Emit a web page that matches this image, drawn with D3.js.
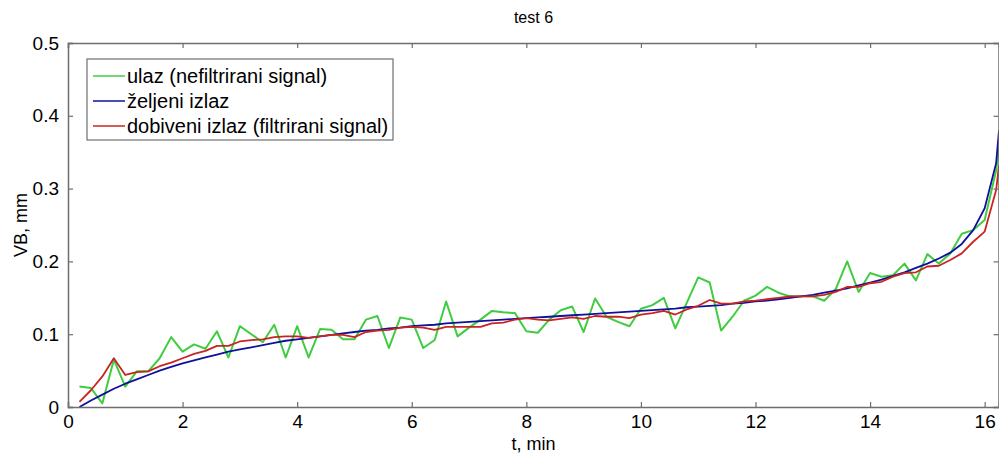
<!DOCTYPE html>
<html><head><meta charset="utf-8">
<script src="https://cdn.jsdelivr.net/npm/d3@7"></script>
<style>body{margin:0;background:#fff;} text{font-family:"Liberation Sans",Arial,sans-serif;}</style>
</head><body><svg id="c" width="999" height="459"></svg>
<script>
const times = [0.2,0.4,0.6,0.8,1.0,1.2,1.4,1.6,1.8,2.0,2.2,2.4,2.6,2.8,3.0,3.2,3.4,3.6,3.8,4.0,
4.2,4.4,4.6,4.8,5.0,5.2,5.4,5.6,5.8,6.0,6.2,6.4,6.6,6.8,7.0,7.2,7.4,7.6,7.8,8.0,
8.2,8.4,8.6,8.8,9.0,9.2,9.4,9.6,9.8,10.0,10.2,10.4,10.6,10.8,11.0,11.2,11.4,11.6,11.8,12.0,
12.2,12.4,12.6,12.8,13.0,13.2,13.4,13.6,13.8,14.0,14.2,14.4,14.6,14.8,15.0,15.2,15.4,15.6,15.8,16.0,
16.2,16.25];
const ulaz = [0.028,0.026,0.005,0.065,0.028,0.049,0.049,0.067,0.096,0.076,0.086,0.080,0.104,0.068,0.111,0.100,0.089,0.113,0.068,0.111,
0.068,0.107,0.106,0.093,0.093,0.120,0.125,0.081,0.123,0.120,0.081,0.092,0.145,0.097,0.109,0.120,0.132,0.130,0.129,0.104,
0.102,0.120,0.133,0.138,0.103,0.149,0.124,0.117,0.111,0.135,0.140,0.150,0.108,0.143,0.178,0.171,0.105,0.124,0.146,0.153,
0.165,0.157,0.152,0.152,0.152,0.146,0.162,0.200,0.158,0.184,0.179,0.181,0.197,0.174,0.210,0.197,0.211,0.238,0.243,0.257,
0.325,0.355];
const zeljeni = [0.000,0.009,0.017,0.025,0.032,0.038,0.044,0.050,0.055,0.060,0.064,0.068,0.072,0.076,0.079,0.082,0.085,0.088,0.091,0.093,
0.095,0.097,0.099,0.101,0.103,0.105,0.106,0.108,0.109,0.111,0.112,0.113,0.115,0.116,0.117,0.118,0.119,0.120,0.121,0.122,
0.123,0.124,0.125,0.126,0.127,0.128,0.129,0.130,0.131,0.132,0.133,0.134,0.135,0.137,0.138,0.139,0.140,0.142,0.143,0.145,
0.146,0.148,0.150,0.152,0.154,0.157,0.160,0.163,0.167,0.171,0.175,0.180,0.185,0.191,0.197,0.204,0.212,0.224,0.243,0.273,
0.335,0.380];
const dobiveni = [0.007,0.023,0.042,0.067,0.044,0.048,0.049,0.056,0.061,0.067,0.073,0.077,0.084,0.084,0.090,0.092,0.093,0.096,0.097,0.097,
0.095,0.097,0.099,0.099,0.096,0.103,0.105,0.106,0.109,0.110,0.109,0.106,0.110,0.110,0.110,0.110,0.115,0.116,0.120,0.122,
0.120,0.119,0.121,0.123,0.121,0.125,0.124,0.124,0.122,0.127,0.129,0.132,0.127,0.134,0.139,0.147,0.142,0.142,0.145,0.146,
0.148,0.150,0.152,0.152,0.152,0.154,0.158,0.165,0.165,0.170,0.172,0.179,0.184,0.185,0.193,0.194,0.202,0.211,0.227,0.241,
0.298,0.332];
const xTicks = [0,2,4,6,8,10,12,14,16];
const yTicks = [0,0.1,0.2,0.3,0.4,0.5];
const seriesNames = ["ulaz (nefiltrirani signal)","željeni izlaz","dobiveni izlaz (filtrirani signal)"];
const seriesColors = ["#40cc40","#10109c","#c82424"];
const titleText = "test 6", xLabel = "t, min", yLabel = "VB, mm";

const svg = d3.select("#c");
const L = 68, R = 999, T = 43, B = 407;
const x = d3.scaleLinear().domain([0,16.25]).range([L,R]);
const y = d3.scaleLinear().domain([0,0.5]).range([B,T]);
const axisCol = "#6e6e6e";

svg.append("clipPath").attr("id","clip").append("rect").attr("x",L).attr("y",T).attr("width",R-L).attr("height",B-T);

const series = [ulaz, zeljeni, dobiveni];
const line = d3.line().x((d,i)=>x(times[i])).y(d=>y(d));
const g = svg.append("g").attr("clip-path","url(#clip)");
series.forEach((s,k)=>{
  g.append("path").datum(s).attr("d",line).attr("fill","none")
   .attr("stroke",seriesColors[k]).attr("stroke-width",k===0?2:1.8).attr("stroke-linejoin","round");
});

const fmt = d => d===0 ? "0" : d3.format(".1f")(d);
const axB = svg.append("g").attr("transform",`translate(0,${B})`).call(d3.axisBottom(x).tickValues(xTicks).tickSize(-5).tickPadding(8).tickFormat(d3.format("d")));
const axT = svg.append("g").attr("transform",`translate(0,${T})`).call(d3.axisTop(x).tickValues(xTicks).tickSize(-5).tickFormat(""));
const axL = svg.append("g").attr("transform",`translate(${L},0)`).call(d3.axisLeft(y).tickValues(yTicks).tickSize(-5).tickPadding(9).tickFormat(fmt));
const axR = svg.append("g").attr("transform",`translate(${R-0.5},0)`).call(d3.axisRight(y).tickValues(yTicks).tickSize(-5).tickFormat(""));
[axB,axT,axL,axR].forEach(a=>{
  a.select(".domain").attr("stroke",axisCol).attr("stroke-width",1.5);
  a.selectAll(".tick line").attr("stroke",axisCol).attr("stroke-width",1.2);
  a.selectAll(".tick text").attr("fill","#000").style("font-size","19px").style("font-family","'Liberation Sans',Arial,sans-serif");
});

svg.append("text").attr("x",(L+R)/2).attr("y",23).attr("text-anchor","middle").style("font-size","16px").text(titleText);
svg.append("text").attr("x",(L+R)/2).attr("y",450).attr("text-anchor","middle").style("font-size","18px").text(xLabel);
svg.append("text").attr("transform",`translate(27,${(T+B)/2}) rotate(-90)`).attr("text-anchor","middle").style("font-size","18px").text(yLabel);

const lg = svg.append("g");
lg.append("rect").attr("x",87).attr("y",59).attr("width",306).attr("height",81).attr("fill","#fff").attr("stroke",axisCol).attr("stroke-width",1.2);
seriesNames.forEach((n,i)=>{
  const cy = 76 + i*25;
  lg.append("line").attr("x1",93).attr("x2",125).attr("y1",cy).attr("y2",cy).attr("stroke",seriesColors[i]).attr("stroke-width",1.5);
  lg.append("text").attr("x",127).attr("y",cy+7).style("font-size","20px").text(n);
});
</script></body></html>
